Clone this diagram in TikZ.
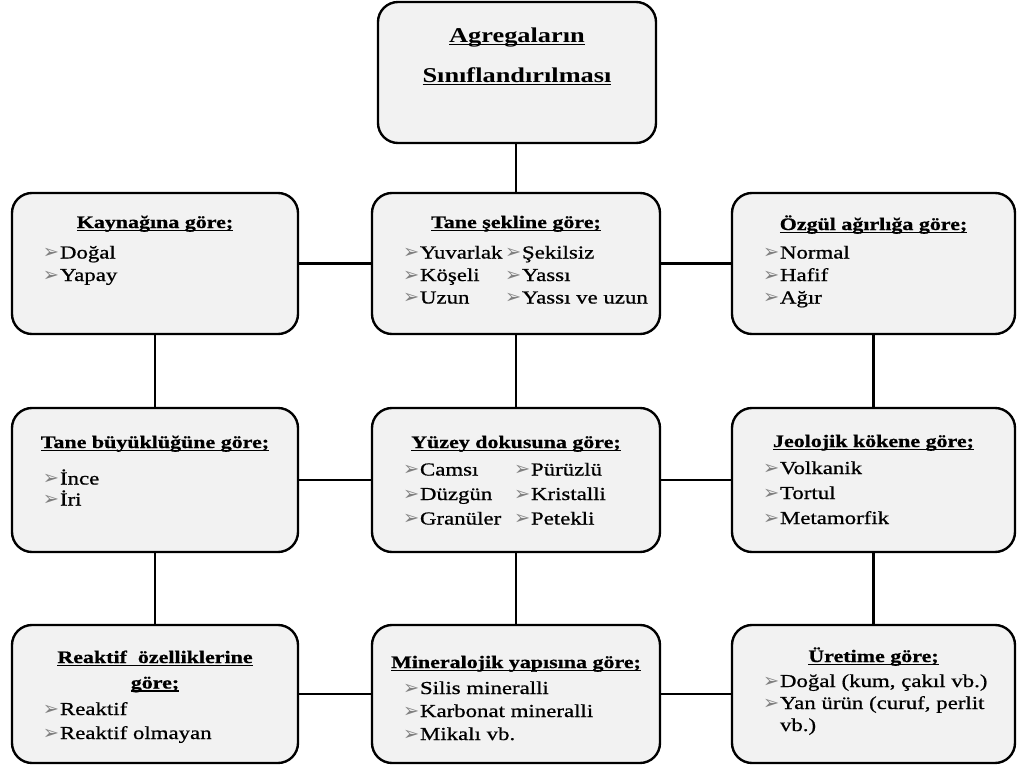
\documentclass[tikz,border=0pt]{standalone}
\usepackage{fontspec}
\setmainfont{Liberation Serif}[FakeStretch=1.25]
\newfontfamily\maddefont{Liberation Serif}[FakeStretch=1.25, FakeBold=0.8]
\newfontfamily\okfont{DejaVu Sans}
\usepackage{color}
\usepackage{tikz}

% item arrow, heading underline and box text
\newcommand{\madde}{\makebox[0.34cm][l]{\okfont\fontsize{11}{11}\selectfont\color{black!50}➢}}
\newcommand{\altciz}[1]{\setbox0=\hbox{#1}\rlap{\rule[-1.8pt]{\wd0}{0.8pt}}\box0}
\newcommand{\baslik}[2]{\centerline{\rule{0pt}{#1}\fontsize{10}{12}\selectfont\bfseries\altciz{#2}}}
\newcommand{\icerik}[3]{\parbox[c][#2][t]{#1}{\maddefont\fontsize{10.4}{0.45cm}\selectfont #3}}

\tikzset{
  kutu/.style={draw, line width=1.35pt, rounded corners=0.4cm, fill=black!5, inner sep=0pt},
  baglanti/.style={line width=1.6pt}
}

\begin{document}
\begin{tikzpicture}
%\draw[help lines] (0,0) grid (20,-15);
\useasboundingbox (0,0) rectangle (20.34,-15.44);

% Define the columns and rows
\pgfmathsetmacro{\Xleft}{3.10};
\pgfmathsetmacro{\Xmid}{10.32};
\pgfmathsetmacro{\Xright}{17.47};
\pgfmathsetmacro{\Yone}{-5.27};
\pgfmathsetmacro{\Ytwo}{-9.60};
\pgfmathsetmacro{\Ythree}{-13.88};

% the title box
\node[kutu] (baslik) at (10.34,-1.45) {\parbox[c][2.82cm][t]{5.56cm}{\fontsize{12}{0.8cm}\selectfont\bfseries
  \centerline{\rule{0pt}{0.80cm}\altciz{Agregaların}}
  \centerline{\altciz{Sınıflandırılması}}}};

% first row
\node[kutu] (kaynak) at (\Xleft,\Yone) {\icerik{5.72cm}{2.82cm}{%
  \baslik{0.70cm}{Kaynağına göre;}\vspace{0.16cm}
  \hspace*{0.62cm}\madde Doğal\par
  \hspace*{0.62cm}\madde Yapay\par}};
\node[kutu] (sekil) at (\Xmid,\Yone) {\icerik{5.76cm}{2.82cm}{%
  \baslik{0.70cm}{Tane şekline göre;}\vspace{0.16cm}
  \hspace*{0.62cm}\makebox[2.04cm][l]{\madde Yuvarlak}\madde Şekilsiz\par
  \hspace*{0.62cm}\makebox[2.04cm][l]{\madde Köşeli}\madde Yassı\par
  \hspace*{0.62cm}\makebox[2.04cm][l]{\madde Uzun}\madde Yassı ve uzun\par}};
\node[kutu] (ozgul) at (\Xright,\Yone) {\icerik{5.66cm}{2.82cm}{%
  \baslik{0.74cm}{Özgül ağırlığa göre;}\vspace{0.12cm}
  \hspace*{0.62cm}\madde Normal\par
  \hspace*{0.62cm}\madde Hafif\par
  \hspace*{0.62cm}\madde Ağır\par}};

% second row
\node[kutu] (buyukluk) at (\Xleft,\Ytwo) {\icerik{5.72cm}{2.88cm}{%
  \baslik{0.80cm}{Tane büyüklüğüne göre;}\vspace{0.28cm}
  \hspace*{0.62cm}\madde İnce\par\vspace{-0.03cm}
  \hspace*{0.62cm}\madde İri\par}};
\node[kutu] (yuzey) at (\Xmid,\Ytwo) {\icerik{5.76cm}{2.88cm}{\baselineskip=0.49cm
  \baslik{0.80cm}{Yüzey dokusuna göre;}\vspace{0.06cm}
  \hspace*{0.62cm}\makebox[2.22cm][l]{\madde Camsı}\madde Pürüzlü\par
  \hspace*{0.62cm}\makebox[2.22cm][l]{\madde Düzgün}\madde Kristalli\par
  \hspace*{0.62cm}\makebox[2.22cm][l]{\madde Granüler}\madde Petekli\par}};
\node[kutu] (jeoloji) at (\Xright,\Ytwo) {\icerik{5.66cm}{2.88cm}{\baselineskip=0.50cm
  \baslik{0.78cm}{Jeolojik kökene göre;}\vspace{0.04cm}
  \hspace*{0.62cm}\madde Volkanik\par
  \hspace*{0.62cm}\madde Tortul\par
  \hspace*{0.62cm}\madde Metamorfik\par}};

% third row
\node[kutu] (reaktif) at (\Xleft,\Ythree) {\icerik{5.72cm}{2.76cm}{\baselineskip=0.48cm
  \baslik{0.76cm}{Reaktif\ \ özelliklerine}\vspace{0.03cm}
  \baslik{0pt}{göre;}\vspace{0.05cm}
  \hspace*{0.62cm}\madde Reaktif\par
  \hspace*{0.62cm}\madde Reaktif olmayan\par}};
\node[kutu] (mineral) at (\Xmid,\Ythree) {\icerik{5.76cm}{2.76cm}{\baselineskip=0.46cm
  \baslik{0.86cm}{Mineralojik yapısına göre;}\vspace{0.06cm}
  \hspace*{0.62cm}\madde Silis mineralli\par
  \hspace*{0.62cm}\madde Karbonat mineralli\par
  \hspace*{0.62cm}\madde Mikalı vb.\par}};
\node[kutu] (uretim) at (\Xright,\Ythree) {\icerik{5.66cm}{2.76cm}{\baselineskip=0.44cm
  \baslik{0.74cm}{Üretime göre;}\vspace{0.06cm}
  \hspace*{0.62cm}\madde Doğal (kum, çakıl vb.)\par
  \hspace*{0.62cm}\madde Yan ürün (curuf, perlit\par
  \hspace*{0.96cm}vb.)\par}};

% draw the connections
\draw[baglanti] (baslik.south -| sekil.north) -- (sekil.north);
\draw[baglanti] (kaynak.east) -- (sekil.west);
\draw[baglanti] (sekil.east) -- (ozgul.west);
\draw[baglanti] (buyukluk.east) -- (yuzey.west);
\draw[baglanti] (yuzey.east) -- (jeoloji.west);
\draw[baglanti] (reaktif.east) -- (mineral.west);
\draw[baglanti] (mineral.east) -- (uretim.west);

\draw[baglanti] (kaynak.south) -- (buyukluk.north);
\draw[baglanti] (buyukluk.south) -- (reaktif.north);
\draw[baglanti] (sekil.south) -- (yuzey.north);
\draw[baglanti] (yuzey.south) -- (mineral.north);
\draw[baglanti] (ozgul.south) -- (jeoloji.north);
\draw[baglanti] (jeoloji.south) -- (uretim.north);
\end{tikzpicture}
\end{document}
